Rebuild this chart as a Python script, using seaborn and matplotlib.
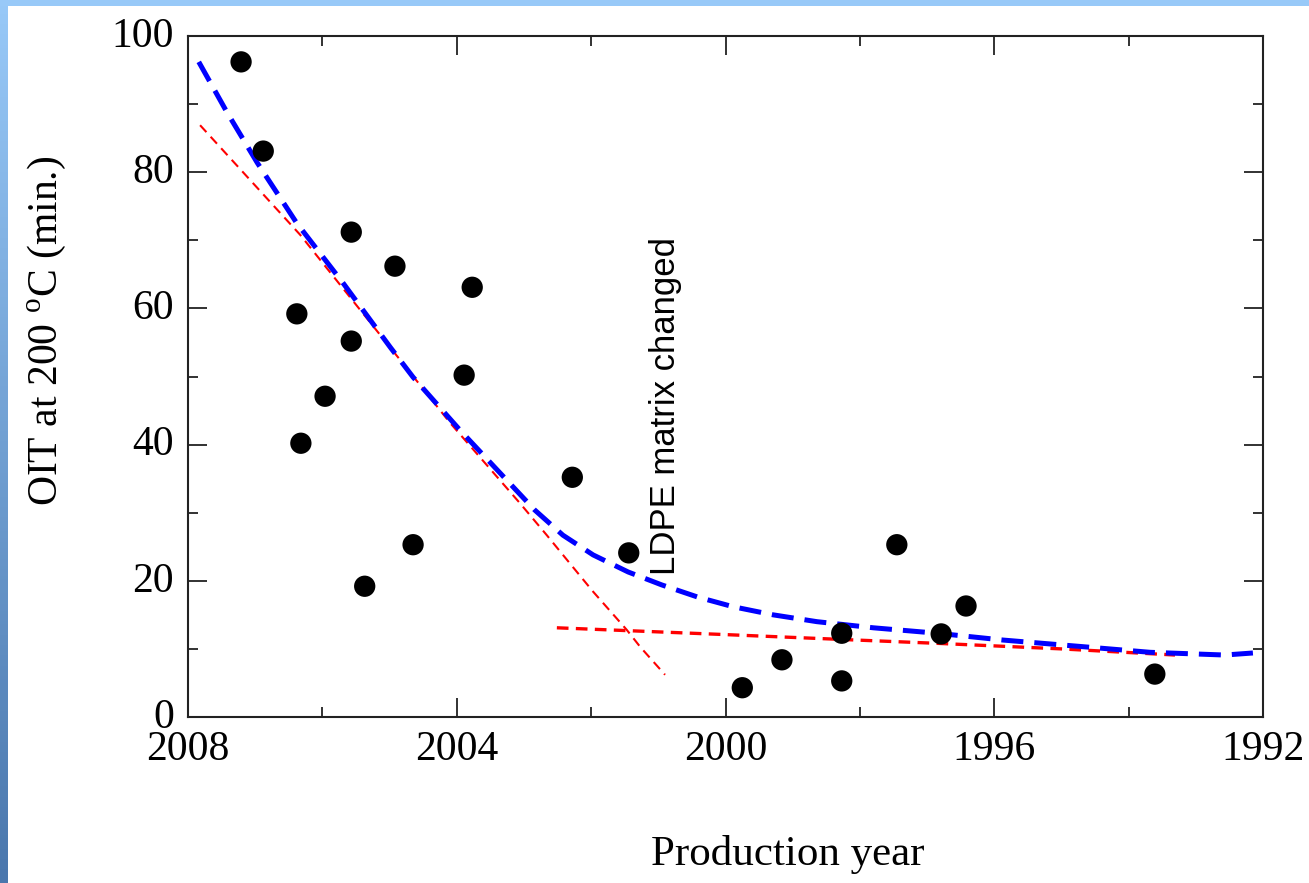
import numpy as np
import pandas as pd
import matplotlib
matplotlib.use("Agg")
import matplotlib.pyplot as plt
import matplotlib.transforms as mtransforms
import seaborn as sns
from matplotlib.ticker import MultipleLocator, FixedLocator
from matplotlib.colors import LinearSegmentedColormap

# ---- data ----
year = [2007.21, 2006.88, 2006.38, 2006.32, 2005.96, 2005.57, 2005.57, 2005.37,
        2004.92, 2004.65, 2003.89, 2003.77, 2002.28, 2001.44, 1999.75, 1999.16,
        1998.27, 1998.27, 1997.45, 1996.79, 1996.42, 1993.61]
oit = [96.2, 83.1, 59.2, 40.2, 47.1, 71.2, 55.2, 19.2,
       66.2, 25.3, 50.2, 63.1, 35.2, 24.1, 4.3, 8.4,
       12.3, 5.3, 25.3, 12.2, 16.3, 6.3]

fit_year = [2007.84, 2007.42, 2006.97, 2006.38, 2005.69, 2004.99, 2004.65, 2003.95,
            2003.40, 2002.84, 2002.42, 2001.97, 2001.45, 2000.95, 2000.41, 1999.89,
            1999.29, 1998.64, 1997.80, 1996.85, 1995.87, 1994.77, 1993.68, 1992.57,
            1992.15]
fit_oit = [96.2, 88.8, 81.4, 72.5, 63.7, 54.3, 49.9, 42.1,
           36.3, 30.4, 26.7, 23.8, 21.3, 19.4, 17.6, 16.2,
           15.0, 14.0, 13.1, 12.3, 11.3, 10.4, 9.5, 9.1,
           9.4]

steep_year = [2007.82, 2006.33, 2004.84, 2004.10, 2003.06, 2002.66, 2002.27, 2001.97,
              2001.47, 2001.27, 2000.90]
steep_oit = [86.9, 70.8, 52.4, 43.2, 31.4, 26.7, 22.0, 18.4, 12.8, 10.3, 6.2]

flat_year = [2002.51, 2000.00, 1998.30, 1996.81, 1995.00, 1993.31]
flat_oit = [13.1, 12.1, 11.4, 10.8, 10.0, 9.1]

x_major = [2008, 2004, 2000, 1996, 1992]
y_major = [0, 20, 40, 60, 80, 100]
xlabel = "Production year"
ylabel = r"OIT at 200 $^{\rm o}$C (min.)"
note = "LDPE matrix changed"

df_pts = pd.DataFrame({"year": year, "oit": oit})
df_fit = pd.DataFrame({"year": fit_year, "oit": fit_oit})
df_steep = pd.DataFrame({"year": steep_year, "oit": steep_oit})
df_flat = pd.DataFrame({"year": flat_year, "oit": flat_oit})

sns.set_style("ticks")
plt.rcParams["font.family"] = ["Liberation Serif", "DejaVu Serif"]
plt.rcParams["mathtext.fontset"] = "custom"
plt.rcParams["mathtext.rm"] = "Liberation Serif"

fig = plt.figure(figsize=(13.09, 8.83), dpi=100)
fig.patch.set_facecolor("white")

# slide frame decoration (left gradient band and top band)
band = fig.add_axes([0, 0, 8 / 1309, 1])
grad = np.linspace(0, 1, 256).reshape(-1, 1)
cmap = LinearSegmentedColormap.from_list("frame", ["#98c9f8", "#4a77ad"])
band.imshow(grad, aspect="auto", cmap=cmap, extent=[0, 1, 0, 1], origin="upper")
band.axis("off")
topband = fig.add_axes([0, 1 - 6 / 883, 1, 6 / 883])
topband.set_facecolor("#98c9f8")
topband.set_xticks([]); topband.set_yticks([])
for s in topband.spines.values():
    s.set_visible(False)

ax = fig.add_axes([188 / 1309, 1 - 717 / 883, (1263 - 188) / 1309, (717 - 36) / 883])

sns.lineplot(data=df_fit, x="year", y="oit", ax=ax, color="#0000ff", lw=3.6,
             sort=False, estimator=None, zorder=3)
ax.lines[-1].set_dashes((4.4, 2.2))
sns.lineplot(data=df_steep, x="year", y="oit", ax=ax, color="#ff0000", lw=1.5,
             sort=False, estimator=None, zorder=2)
ax.lines[-1].set_dashes((4.5, 3.0))
sns.lineplot(data=df_flat, x="year", y="oit", ax=ax, color="#ff0000", lw=2.4,
             sort=False, estimator=None, zorder=2)
ax.lines[-1].set_dashes((3.5, 2.2))
sns.scatterplot(data=df_pts, x="year", y="oit", ax=ax, color="black", s=235,
                edgecolor="none", zorder=4)

ax.set_xlim(2008, 1992)
ax.set_ylim(0, 100)
ax.xaxis.set_major_locator(FixedLocator(x_major))
ax.xaxis.set_minor_locator(MultipleLocator(2))
ax.yaxis.set_major_locator(FixedLocator(y_major))
ax.yaxis.set_minor_locator(MultipleLocator(10))
ax.set_xticklabels([str(v) for v in x_major])
ax.set_yticklabels([str(v) for v in y_major])
ax.tick_params(which="both", direction="in", top=True, right=True,
               color="#222222", width=1.3, labelsize=30, labelcolor="black")
ax.tick_params(which="major", length=14)
ax.tick_params(which="minor", length=7)
ax.tick_params(axis="x", which="major", pad=10)
ax.tick_params(axis="y", which="major", pad=10)
for s in ax.spines.values():
    s.set_visible(True)
    s.set_linewidth(1.5)
    s.set_color("#222222")

# y tick labels sit slightly above their ticks in the reference
shift = mtransforms.ScaledTranslation(0, 4 / 100, fig.dpi_scale_trans)
for lab in ax.get_yticklabels():
    lab.set_transform(lab.get_transform() + shift)

ax.set_xlabel(xlabel, fontsize=31, color="black")
ax.set_ylabel(ylabel, fontsize=30, color="black")
ax.xaxis.set_label_coords(0.5577, -0.173)
ax.yaxis.set_label_coords(-0.112, 0.567)

ax.text(2000.89, 20.8, note, rotation=90, ha="center", va="bottom",
        fontsize=25, family=["Liberation Sans", "DejaVu Sans"], color="black")

fig.savefig("out.png", dpi=100, facecolor="white")
